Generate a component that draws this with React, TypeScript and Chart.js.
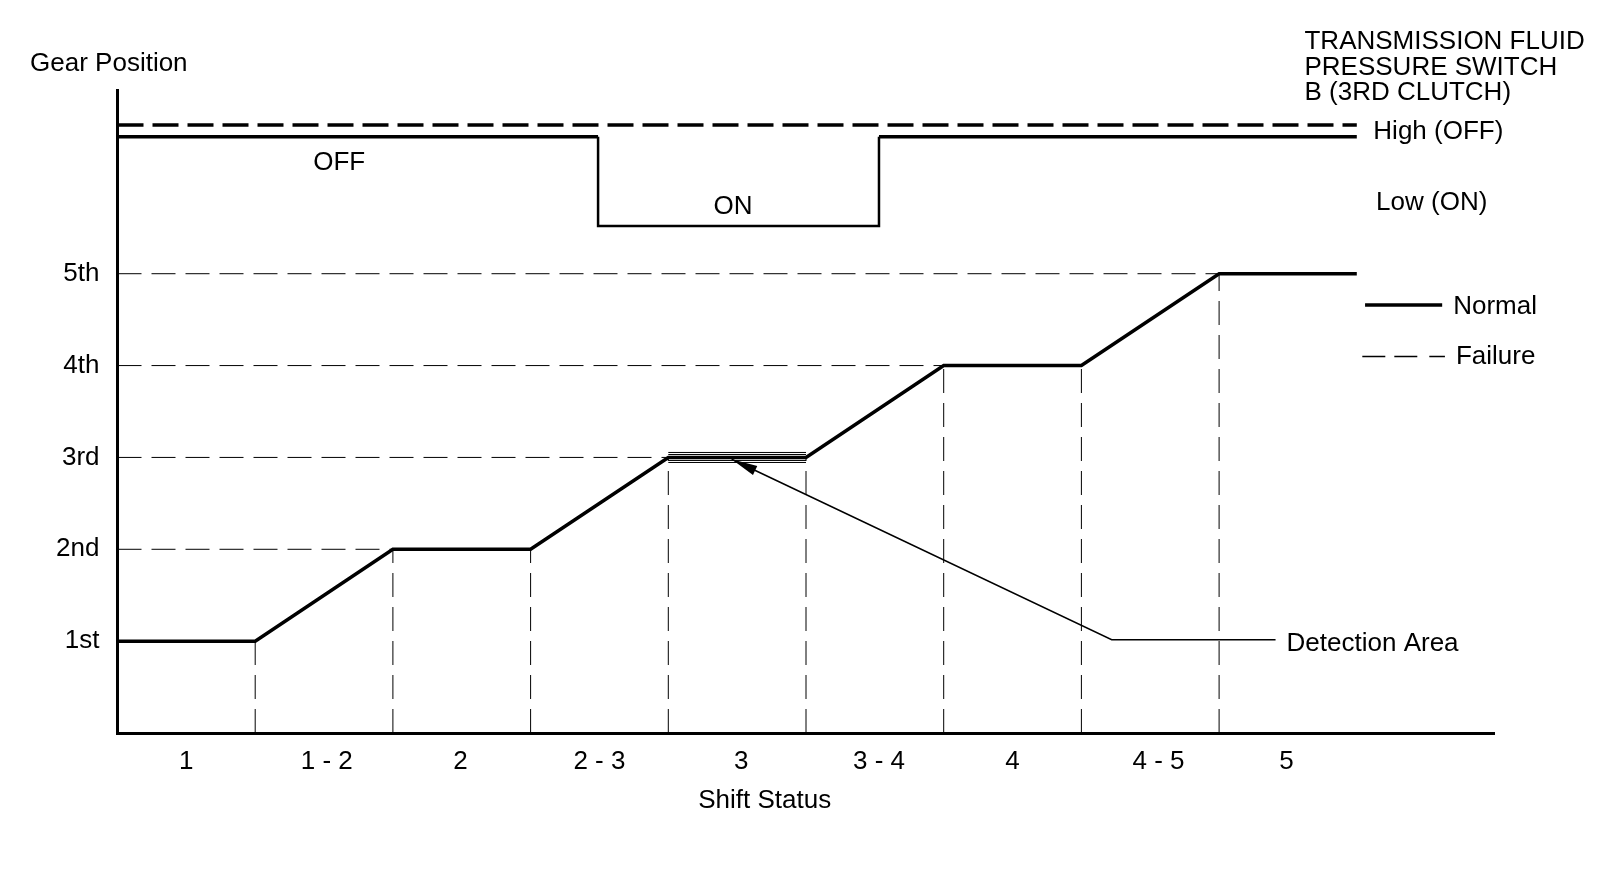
import React, { useEffect, useRef } from "react";
import { Chart, registerables } from "chart.js";

Chart.register(...registerables);

// ---- data ----
const SHIFT_LABELS = ["1", "1 - 2", "2", "2 - 3", "3", "3 - 4", "4", "4 - 5", "5"];
const SHIFT_TICKS = [0.5, 1.52, 2.49, 3.5, 4.53, 5.53, 6.5, 7.56, 8.49];
const GEAR_LABELS = ["", "1st", "2nd", "3rd", "4th", "5th"];

const GEAR_X = [0, 1, 2, 3, 4, 5, 6, 7, 8, 9];
const GEAR_NORMAL = [1, 1, 2, 2, 3, 3, 4, 4, 5, 5];

const SWITCH_X = [0, 3.49, 3.49, 5.53, 5.53, 9];
const SWITCH_NORMAL = [6.49, 6.49, 5.52, 5.52, 6.49, 6.49];

const FAILURE_X = [0, 9];
const SWITCH_FAILURE = [6.62, 6.62];

const DETECTION_X = [4, 5];
const DETECTION_LEVELS = [3.054, 3.032, 2.967, 2.945];

const ARROW_X = [8.41, 7.22, 4.46];
const ARROW_Y = [1.015, 1.015, 2.98];

// ---- text annotations (data units) ----
const FONT = "'Liberation Sans', Arial, Helvetica, sans-serif";
const TEXTS = [
  { t: "Gear Position", x: -0.635, y: 7.28, align: "left" },
  { t: "TRANSMISSION FLUID", x: 8.62, y: 7.52, align: "left" },
  { t: "PRESSURE SWITCH", x: 8.62, y: 7.24, align: "left" },
  { t: "B (3RD CLUTCH)", x: 8.62, y: 6.965, align: "left" },
  { t: "High (OFF)", x: 9.12, y: 6.55, align: "left" },
  { t: "Low (ON)", x: 9.14, y: 5.77, align: "left" },
  { t: "OFF", x: 1.61, y: 6.21, align: "center" },
  { t: "ON", x: 4.47, y: 5.73, align: "center" },
  { t: "Normal", x: 9.7, y: 4.64, align: "left" },
  { t: "Failure", x: 9.72, y: 4.1, align: "left" },
  { t: "Detection Area", x: 8.49, y: 0.97, align: "left" },
  { t: "Shift Status", x: 4.7, y: -0.74, align: "center" },
];
const LEGEND_NORMAL = { x0: 9.06, x1: 9.62, y: 4.66 };
const LEGEND_FAILURE = { x0: 9.04, x1: 9.64, y: 4.1 };

const pts = (xs: number[], ys: number[]) => xs.map((x, i) => ({ x, y: ys[i] }));

function buildGuides() {
  const out: any[] = [];
  // horizontal guides from axis to the point where each gear level begins
  for (let lvl = 2; lvl <= 5; lvl++) {
    const idx = GEAR_NORMAL.indexOf(lvl);
    out.push({ x: 0, y: lvl }, { x: GEAR_X[idx], y: lvl }, { x: GEAR_X[idx], y: null });
  }
  // vertical drop lines at each shift boundary
  for (let i = 1; i < GEAR_X.length - 1; i++) {
    out.push({ x: GEAR_X[i], y: 0 }, { x: GEAR_X[i], y: GEAR_NORMAL[i] }, { x: GEAR_X[i], y: null });
  }
  return out;
}

function buildDetection() {
  const out: any[] = [];
  DETECTION_LEVELS.forEach((lvl) => {
    out.push({ x: DETECTION_X[0], y: lvl }, { x: DETECTION_X[1], y: lvl }, { x: DETECTION_X[1], y: null });
  });
  return out;
}

const overlayPlugin = {
  id: "overlay",
  afterDraw(chart: any) {
    const { ctx, scales } = chart;
    const xs = scales.x;
    const ys = scales.y;
    ctx.save();
    ctx.fillStyle = "#000";
    ctx.strokeStyle = "#000";
    ctx.font = `26px ${FONT}`;
    ctx.textBaseline = "middle";
    TEXTS.forEach((a) => {
      ctx.textAlign = a.align;
      ctx.fillText(a.t, xs.getPixelForValue(a.x), ys.getPixelForValue(a.y));
    });
    // legend samples
    ctx.lineWidth = 3.5;
    ctx.setLineDash([]);
    ctx.beginPath();
    ctx.moveTo(xs.getPixelForValue(LEGEND_NORMAL.x0), ys.getPixelForValue(LEGEND_NORMAL.y));
    ctx.lineTo(xs.getPixelForValue(LEGEND_NORMAL.x1), ys.getPixelForValue(LEGEND_NORMAL.y));
    ctx.stroke();
    ctx.lineWidth = 1.5;
    ctx.setLineDash([23, 9, 23, 12, 16, 100]);
    ctx.beginPath();
    ctx.moveTo(xs.getPixelForValue(LEGEND_FAILURE.x0), ys.getPixelForValue(LEGEND_FAILURE.y));
    ctx.lineTo(xs.getPixelForValue(LEGEND_FAILURE.x1), ys.getPixelForValue(LEGEND_FAILURE.y));
    ctx.stroke();
    ctx.setLineDash([]);
    // arrow head at the end of the leader
    const n = ARROW_X.length;
    const tx = xs.getPixelForValue(ARROW_X[n - 1]);
    const ty = ys.getPixelForValue(ARROW_Y[n - 1]);
    const fx = xs.getPixelForValue(ARROW_X[n - 2]);
    const fy = ys.getPixelForValue(ARROW_Y[n - 2]);
    const ang = Math.atan2(ty - fy, tx - fx);
    const len = 26;
    const hw = 5;
    const bx = tx - Math.cos(ang) * len;
    const by = ty - Math.sin(ang) * len;
    ctx.beginPath();
    ctx.moveTo(tx, ty);
    ctx.lineTo(bx + Math.sin(ang) * hw, by - Math.cos(ang) * hw);
    ctx.lineTo(bx - Math.sin(ang) * hw, by + Math.cos(ang) * hw);
    ctx.closePath();
    ctx.fill();
    ctx.restore();
  },
};

export default function App() {
  const ref = useRef<HTMLCanvasElement | null>(null);
  useEffect(() => {
    document.body.style.margin = "0";
    const canvas = ref.current;
    if (!canvas) return;
    Chart.defaults.font.family = FONT;
    Chart.defaults.color = "#000";
    const base = {
      pointRadius: 0,
      pointHoverRadius: 0,
      borderColor: "#000",
      fill: false,
      tension: 0,
      borderJoinStyle: "miter" as const,
      borderCapStyle: "butt" as const,
      spanGaps: false,
    };
    const chart = new Chart(canvas, {
      type: "line",
      data: {
        datasets: [
          { ...base, label: "Normal", data: pts(GEAR_X, GEAR_NORMAL), borderWidth: 3.5 },
          {
            ...base,
            label: "Switch Normal",
            data: pts(SWITCH_X, SWITCH_NORMAL),
            borderWidth: 3.5,
            segment: {
              borderWidth: (c: any) => (c.p0.parsed.x >= SWITCH_X[1] && c.p1.parsed.x <= SWITCH_X[4] ? 2.5 : 3.5),
            },
          },
          { ...base, label: "Switch Failure", data: pts(FAILURE_X, SWITCH_FAILURE), borderWidth: 3.5, borderDash: [26, 9] },
          { ...base, label: "Guides", data: buildGuides(), borderWidth: 1, borderDash: [24, 10] },
          { ...base, label: "Detection", data: buildDetection(), borderWidth: 1 },
          { ...base, label: "Leader", data: pts(ARROW_X, ARROW_Y), borderWidth: 1.5 },
        ],
      },
      options: {
        responsive: false,
        animation: false,
        events: [],
        layout: { padding: { top: 90, right: 105.5, left: 0, bottom: 0 } },
        plugins: { legend: { display: false }, tooltip: { enabled: false }, title: { display: false } },
        scales: {
          x: {
            type: "linear",
            min: 0,
            max: 10,
            grid: { display: false, drawTicks: false },
            border: { display: true, color: "#000", width: 3 },
            afterBuildTicks: (s: any) => {
              s.ticks = SHIFT_TICKS.map((v) => ({ value: v }));
            },
            afterFit: (s: any) => {
              s.height = 157;
            },
            ticks: {
              autoSkip: false,
              maxRotation: 0,
              padding: 13,
              font: { size: 26, family: FONT },
              color: "#000",
              callback: (_v: any, i: number) => SHIFT_LABELS[i],
            },
          },
          y: {
            type: "linear",
            min: 0,
            max: 7,
            grid: { display: false, drawTicks: false },
            border: { display: true, color: "#000", width: 3 },
            afterFit: (s: any) => {
              s.width = 117.5;
            },
            ticks: {
              stepSize: 1,
              padding: 18,
              font: { size: 26, family: FONT },
              color: "#000",
              callback: (v: any) => GEAR_LABELS[v] ?? "",
            },
          },
        },
      },
      plugins: [overlayPlugin],
    });
    return () => chart.destroy();
  }, []);
  return <canvas ref={ref} width={1600} height={890} style={{ display: "block" }} />;
}
